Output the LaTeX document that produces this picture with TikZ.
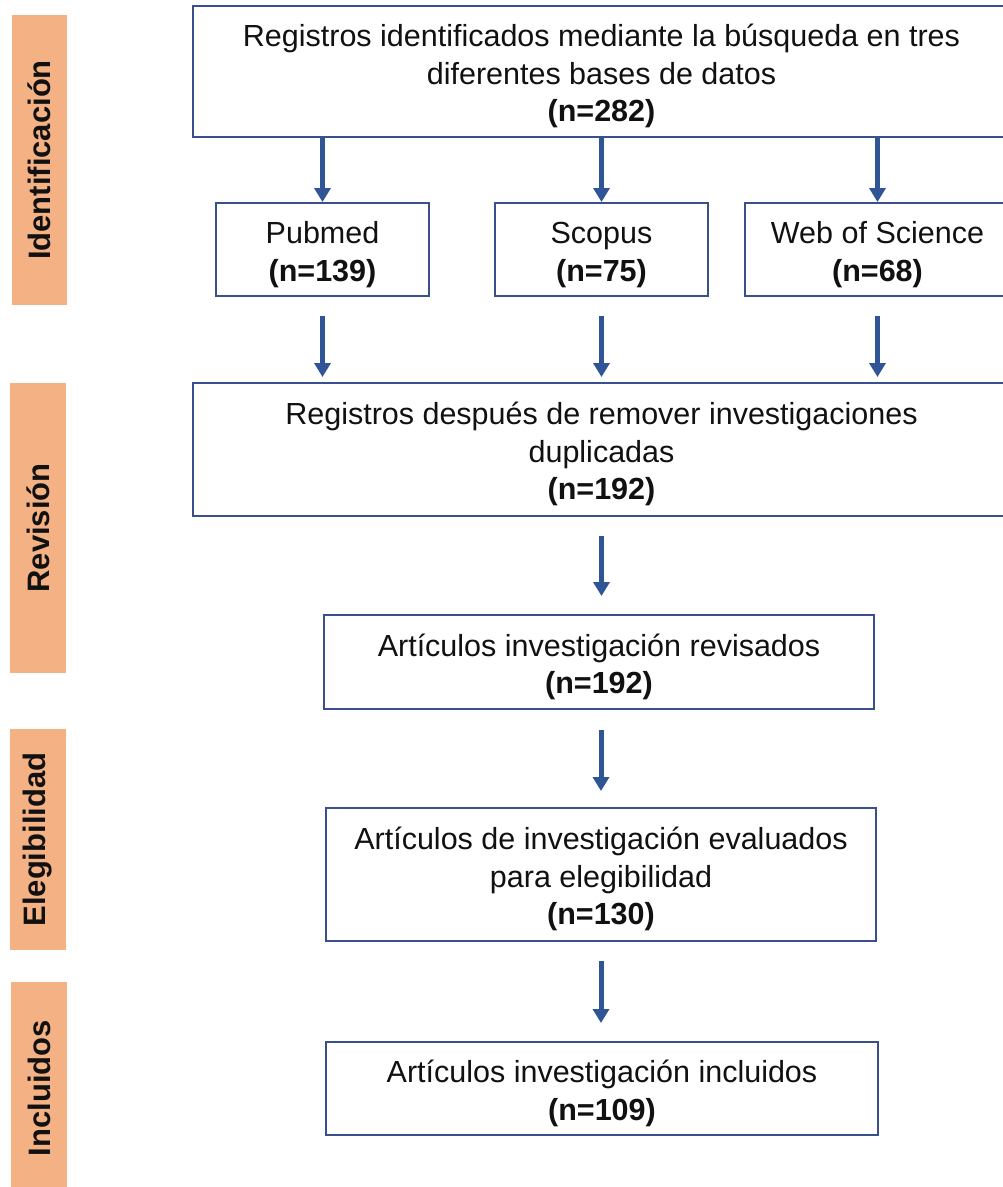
\documentclass[tikz,border=0pt]{standalone}
\usepackage{fontspec}
\setmainfont{Liberation Sans}
\usetikzlibrary{arrows.meta}
\definecolor{boxc}{RGB}{58,80,140}
\definecolor{arrc}{RGB}{47,85,151}
\definecolor{orangec}{RGB}{244,177,131}
\definecolor{txt}{RGB}{17,17,17}
\newcommand\dnstrut{\rule{0pt}{32pt}}
\tikzset{
  box/.style={draw=boxc, line width=2pt, fill=white, inner sep=0pt, align=center,
    text=txt, font={\fontsize{30.5}{37.5}\selectfont}},
  phase/.style={fill=orangec, inner sep=0pt, rotate=90, text=txt,
    font={\fontsize{31}{36}\selectfont\bfseries}},
  arr/.style={draw=arrc, line width=5pt, -{Triangle[width=16pt,length=14pt]}}
}
\begin{document}
\begin{tikzpicture}[x=1pt,y=-1pt]
\useasboundingbox (0,0) rectangle (1003,1187);
\fill[white] (0,0) rectangle (1003,1187);
% phase bars
\node[phase, minimum width=290pt, minimum height=55pt] (p1) at (39.5,160) {Identificación};
\node[phase, minimum width=290pt, minimum height=56pt] (p2) at (38,528) {Revisión};
\node[phase, minimum width=221pt, minimum height=56pt] (p3) at (38,839.5) {Elegibilidad};
\node[phase, minimum width=212pt, minimum height=56pt] (p4) at (39,1088) {Incluidos};
% boxes
\node[box, minimum width=817pt, minimum height=131pt] (top) at (601.5,71.5)
  {\dnstrut Registros identificados mediante la búsqueda en tres\\diferentes bases de datos\\\textbf{(n=282)}};
\node[box, minimum width=213pt, minimum height=93pt] (pub) at (322.5,249.5)
  {\dnstrut Pubmed\\\textbf{(n=139)}};
\node[box, minimum width=213pt, minimum height=93pt] (sco) at (601.5,249.5)
  {\dnstrut Scopus\\\textbf{(n=75)}};
\node[box, minimum width=265pt, minimum height=93pt] (wos) at (877.5,249.5)
  {\dnstrut Web of Science\\\textbf{(n=68)}};
\node[box, minimum width=817pt, minimum height=133pt] (rev) at (601.5,449.5)
  {\dnstrut Registros después de remover investigaciones\\duplicadas\\\textbf{(n=192)}};
\node[box, minimum width=550pt, minimum height=94pt] (revd) at (599,662)
  {\dnstrut Artículos investigación revisados\\\textbf{(n=192)}};
\node[box, minimum width=550pt, minimum height=133pt] (eleg) at (601,874.5)
  {\dnstrut Artículos de investigación evaluados\\para elegibilidad\\\textbf{(n=130)}};
\node[box, minimum width=552pt, minimum height=93pt] (inc) at (602,1088.5)
  {\dnstrut Artículos investigación incluidos\\\textbf{(n=109)}};
% arrows
\draw[arr] (top.south -| pub) -- (pub.north);
\draw[arr] (top.south -| sco) -- (sco.north);
\draw[arr] (top.south -| wos) -- (wos.north);
\draw[arr, shorten <=19pt, shorten >=5pt] (pub.south) -- (pub.south |- rev.north);
\draw[arr, shorten <=19pt, shorten >=5pt] (sco.south) -- (sco.south |- rev.north);
\draw[arr, shorten <=19pt, shorten >=5pt] (wos.south) -- (wos.south |- rev.north);
\draw[arr, shorten <=19pt, shorten >=18pt] (rev.south) -- (rev.south |- revd.north);
\draw[arr, shorten <=20pt, shorten >=16pt] (revd.south -| eleg) -- (eleg.north);
\draw[arr, shorten <=19pt, shorten >=18pt] (eleg.south) -- (eleg.south |- inc.north);
\end{tikzpicture}
\end{document}
